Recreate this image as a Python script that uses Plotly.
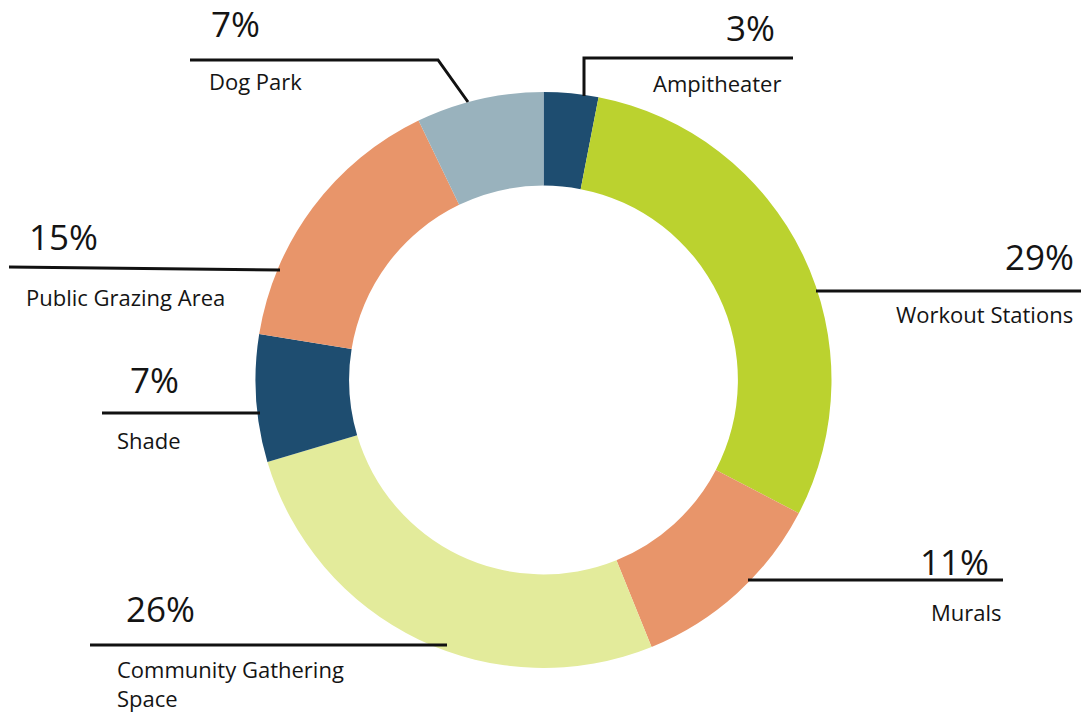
import plotly.graph_objects as go

# Share of responses per amenity (clockwise from 12 o'clock)
categories = ["Ampitheater", "Workout Stations", "Murals", "Community Gathering Space",
              "Shade", "Public Grazing Area", "Dog Park"]
shares = [3, 29, 11, 26, 7, 15, 7]
pct_labels = ["3%", "29%", "11%", "26%", "7%", "15%", "7%"]
name_labels = ["Ampitheater", "Workout Stations", "Murals", "Community Gathering<br>Space",
               "Shade", "Public Grazing Area", "Dog Park"]
colors = ["#1e4d70", "#bbd22f", "#e8956a", "#e3eb9b", "#1e4d70", "#e8956a", "#99b2bd"]

W, H = 1081, 712


def px(x):
    return x / W


def py(y):
    return 1 - y / H


fig = go.Figure(go.Pie(
    labels=categories,
    values=shares,
    sort=False,
    direction="clockwise",
    rotation=0,
    hole=0.675,
    marker=dict(colors=colors, line=dict(width=0)),
    textinfo="none",
    hoverinfo="label+percent",
    showlegend=False,
    domain=dict(x=[px(255.5), px(831.5)], y=[py(668), py(92)]),
))

# Callout geometry: leader polyline (pixel points), percent text anchor, name text anchor
callouts = [
    # Ampitheater
    dict(line=[(584, 96), (584, 58), (793, 58)],
         pct=(777, 28, "right"), name=(651, 83, "left")),
    # Workout Stations
    dict(line=[(816, 291), (1081, 291)],
         pct=(1076, 256, "right"), name=(894, 314, "left")),
    # Murals
    dict(line=[(748, 580), (1003, 580)],
         pct=(991, 561, "right"), name=(929, 612, "left")),
    # Community Gathering Space
    dict(line=[(90, 645), (447, 645)],
         pct=(124, 608, "left"), name=(115, 683, "left")),
    # Shade
    dict(line=[(102, 413), (260, 413)],
         pct=(128, 379, "left"), name=(115, 440, "left")),
    # Public Grazing Area
    dict(line=[(9, 267), (280, 270)],
         pct=(27, 236, "left"), name=(24, 297, "left")),
    # Dog Park
    dict(line=[(190, 60), (438, 60), (468, 102)],
         pct=(209, 23, "left"), name=(207, 81, "left")),
]

font_family = "Open Sans, Lato, sans-serif"
ink = "#141414"

shapes = []
annotations = []
for c, pct, nm in zip(callouts, pct_labels, name_labels):
    pts = c["line"]
    path = "M " + " L ".join(f"{px(x)},{py(y)}" for x, y in pts)
    shapes.append(dict(type="path", xref="paper", yref="paper", path=path,
                       line=dict(color="#111111", width=3)))
    x, y, al = c["pct"]
    annotations.append(dict(text=pct, x=px(x), y=py(y), xref="paper", yref="paper",
                            xanchor=al, yanchor="middle", showarrow=False, align=al,
                            font=dict(family=font_family, size=35, color=ink)))
    x, y, al = c["name"]
    annotations.append(dict(text=nm, x=px(x), y=py(y), xref="paper", yref="paper",
                            xanchor=al, yanchor="middle", showarrow=False, align=al,
                            font=dict(family=font_family, size=22, color=ink)))

fig.update_layout(
    width=W, height=H,
    margin=dict(l=0, r=0, t=0, b=0),
    paper_bgcolor="white",
    plot_bgcolor="white",
    shapes=shapes,
    annotations=annotations,
)

fig.write_html("out.html")
